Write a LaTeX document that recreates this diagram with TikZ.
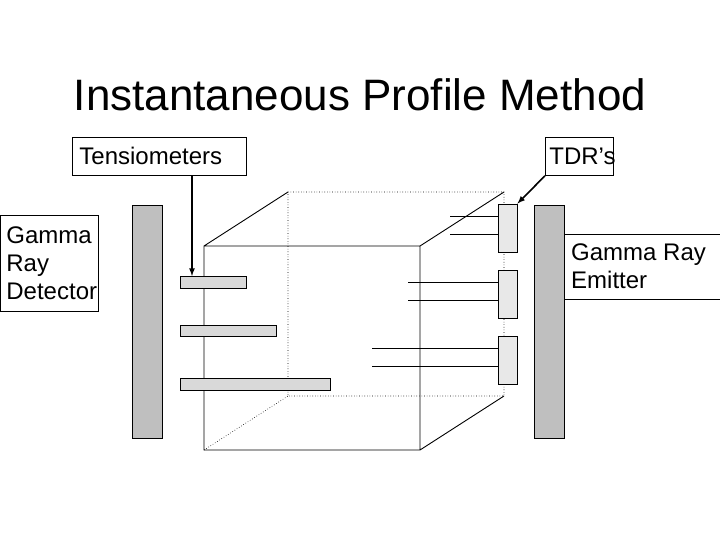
\documentclass[tikz,border=0pt]{standalone}
\usepackage{fontspec}
\setmainfont{Liberation Sans}
\begin{document}
\begin{tikzpicture}[x=1pt,y=-1pt,
  lbl/.style={draw,line width=0.8pt,inner sep=0pt,font=\fontsize{24}{28}\selectfont,align=left},
  gbar/.style={draw,line width=0.8pt,fill=black!25},
  tens/.style={draw,line width=0.8pt,fill=black!15},
  tdr/.style={draw,line width=0.8pt,fill=black!9},
  edge/.style={line width=0.9pt},
  hid/.style={line width=0.6pt,dotted},
  wire/.style={line width=0.7pt},
  arr/.style={line width=1.6pt,-latex}]
\useasboundingbox (0,0) rectangle (720,540);
\node[font=\fontsize{44}{50}\selectfont] (title) at (360,95) {Instantaneous Profile Method};
% cube
\coordinate (f1) at (204,246); \coordinate (f2) at (420,246);
\coordinate (f3) at (420,450); \coordinate (f4) at (204,450);
\coordinate (b1) at (288,192); \coordinate (b2) at (504,192);
\coordinate (b3) at (504,396); \coordinate (b4) at (288,396);
\draw[hid] (b1)--(b2)--(b3)--(b4)--cycle (f4)--(b4);
\draw[edge] (f1)--(f2)--(f3)--(f4)--cycle (f1)--(b1) (f2)--(b2) (f3)--(b3);
% gamma bars
\node[gbar,minimum width=30pt,minimum height=233pt,inner sep=0pt] (gl) at (147,321.5) {};
\node[gbar,minimum width=30pt,minimum height=233pt,inner sep=0pt] (gr) at (549,321.5) {};
% tensiometers
\node[tens,minimum width=66pt,minimum height=12pt,inner sep=0pt] (t1) at (213,282) {};
\node[tens,minimum width=96pt,minimum height=11pt,inner sep=0pt] (t2) at (228,330.5) {};
\node[tens,minimum width=150pt,minimum height=12pt,inner sep=0pt] (t3) at (255,384) {};
% TDRs
\node[tdr,minimum width=19pt,minimum height=48pt,inner sep=0pt] (d1) at (507.5,228) {};
\node[tdr,minimum width=19pt,minimum height=48pt,inner sep=0pt] (d2) at (507.5,294) {};
\node[tdr,minimum width=19pt,minimum height=48pt,inner sep=0pt] (d3) at (507.5,360) {};
\coordinate (w1) at (450,216); \coordinate (w2) at (450,234);
\coordinate (w3) at (408,282); \coordinate (w4) at (408,300);
\coordinate (w5) at (372,348); \coordinate (w6) at (372,366);
\draw[wire] (w1)--(w1-|d1.west) (w2)--(w2-|d1.west)
  (w3)--(w3-|d2.west) (w4)--(w4-|d2.west)
  (w5)--(w5-|d3.west) (w6)--(w6-|d3.west);
% labels
\node[lbl,minimum width=174pt,minimum height=38pt,anchor=north west,inner xsep=7pt,text width=160pt] (ten) at (72,137) {Tensiometers};
\node[lbl,minimum width=68pt,minimum height=38pt,anchor=north west,inner xsep=4pt,text width=60pt] (tdrl) at (545,137) {TDR’s};
\node[lbl,minimum width=96pt,minimum height=96pt,anchor=north west,inner xsep=6pt,text width=86pt] (det) at (0,215) {Gamma\\Ray\\Detector};
\node[font=\fontsize{24}{28}\selectfont,align=left,anchor=west,inner sep=0pt] (emi) at (571,266.5) {Gamma Ray\\Emitter};
\coordinate (e1) at (720,234); \coordinate (e2) at (720,299);
\draw[line width=0.8pt] (e1)--(564,234) (e2)--(564,299);
\draw[arr] (ten.south -| 192,0) -- (192,276);
\draw[arr] (tdrl.south west) -- (d1.north east);
\end{tikzpicture}
\end{document}
